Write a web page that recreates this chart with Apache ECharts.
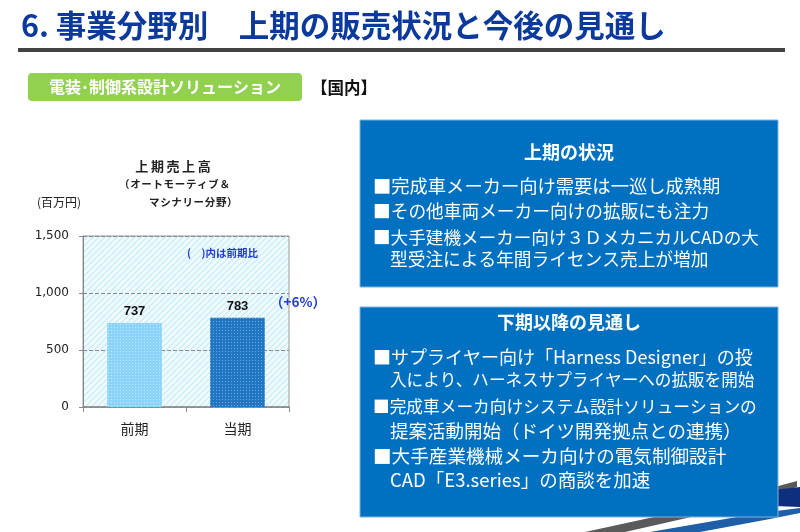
<!DOCTYPE html>
<html><head><meta charset="utf-8">
<script src="https://cdn.jsdelivr.net/npm/echarts@6/dist/echarts.min.js"></script>
<style>html,body{margin:0;padding:0;background:#fff}#c{width:800px;height:532px}</style>
</head><body><div id="c"></div>
<script>
const categories = ['前期', '当期'];
const sales = [737, 783];
const yTicks = [0, 500, 1000, 1500];
const growthNote = '（+6%）';
const pageTitle = '6. 事業分野別　上期の販売状況と今後の見通し';
const sectionLabel = '電装･制御系設計ソリューション';
const regionLabel = '【国内】';
const chartTitle = ['上\u2009期\u2009売\u2009上\u2009高', '（\u200aオ\u200aー\u200aト\u200aモ\u200aー\u200aテ\u200aィ\u200aブ\u200a＆', 'マ\u200aシ\u200aナ\u200aリ\u200aー\u200a分\u200a野\u200a）'];
const unitLabel = '(百万円)';
const ratioNote = '(　)内は前期比';
const box1Title = '上期の状況';
const box1Lines = ['■完成車メーカー向け需要は一巡し成熟期', '■その他車両メーカー向けの拡販にも注力', '■大手建機メーカー向け３ＤメカニカルCADの大', '型受注による年間ライセンス売上が増加'];
const box2Title = '下期以降の見通し';
const box2Lines = ['■サプライヤー向け「Harness Designer」の投', '入により、ハーネスサプライヤーへの拡販を開始', '■完成車メーカ向けシステム設計ソリューションの', '提案活動開始（ドイツ開発拠点との連携）', '■大手産業機械メーカ向けの電気制御設計', 'CAD「E3.series」の商談を加速'];

const JP = '"Noto Sans CJK JP", "Noto Sans", sans-serif';

// hatch pattern for plot background
const pc = document.createElement('canvas');
pc.width = 6; pc.height = 6;
const g = pc.getContext('2d');
g.fillStyle = '#f1fbfe'; g.fillRect(0, 0, 6, 6);
g.strokeStyle = '#c8edf9'; g.lineWidth = 1.3;
g.beginPath(); g.moveTo(-1, 7); g.lineTo(7, -1); g.moveTo(-1, 1); g.lineTo(1, -1); g.moveTo(5, 7); g.lineTo(7, 5); g.stroke();

const chart = echarts.init(document.getElementById('c'), null, {renderer: 'canvas'});

function textEl(x, y, text, size, color, weight, align) {
  return {type: 'text', x: x, y: y, z: 10, style: {text: text, fontSize: size, fill: color, fontWeight: weight || 'normal', fontFamily: JP, align: align || 'left', verticalAlign: 'middle'}};
}

const graphics = [];
// page title + underline
graphics.push(textEl(21, 25, pageTitle, 30.5, '#0c3a9c', 'bold'));
graphics.push({type: 'rect', shape: {x: 18, y: 48, width: 767, height: 4}, style: {fill: '#424242'}});
// section label
graphics.push({type: 'rect', shape: {x: 28, y: 73, width: 274, height: 28, r: 4}, style: {fill: '#92d050'}});
graphics.push(textEl(165, 87, sectionLabel, 16, '#ffffff', 'bold', 'center'));
graphics.push(textEl(311, 88, regionLabel, 16.5, '#111111', 'bold'));
// chart titles
graphics.push(textEl(173, 166, chartTitle[0], 13, '#222', 'bold', 'center'));
graphics.push(textEl(119, 184, chartTitle[1], 10.5, '#222', 'bold'));
graphics.push(textEl(149, 202, chartTitle[2], 10.5, '#222', 'bold'));
graphics.push(textEl(37, 202, unitLabel, 12, '#222', 'normal'));
graphics.push(textEl(187, 253, ratioNote, 10.5, '#1f3bd0', 'bold'));
graphics.push(textEl(270, 302, growthNote, 13.5, '#1f3bd0', 'bold'));
// decorative swooshes (behind box)
graphics.push({type: 'polygon', z: 1, shape: {points: [[585, 532], [625, 532], [700, 515], [797, 487], [797, 481], [700, 507]]}, style: {fill: '#5a5a5a'}});
graphics.push({type: 'polygon', z: 1, shape: {points: [[650, 532], [700, 532], [770, 519], [800, 513], [800, 508], [760, 513]]}, style: {fill: '#1e5fa8'}});
graphics.push({type: 'polygon', z: 1, shape: {points: [[772, 490], [800, 487], [800, 507], [775, 506]]}, style: {fill: '#0e2f7e'}});
// boxes
graphics.push({type: 'rect', z: 5, shape: {x: 360, y: 120, width: 418, height: 167}, style: {fill: '#0070c0', stroke: '#7fb3e0', lineWidth: 1}});
graphics.push({type: 'rect', z: 5, shape: {x: 360, y: 307, width: 418, height: 210}, style: {fill: '#0070c0', stroke: '#7fb3e0', lineWidth: 1}});
graphics.push(textEl(569, 152, box1Title, 18, '#ffffff', 'bold', 'center'));
const b1y = [186, 211, 237, 259];
const b1x = [373, 373, 373, 390];
const b1s = [18.3, 17.7, 17.6, 17.7];
box1Lines.forEach((t, i) => graphics.push(textEl(b1x[i], b1y[i], t, b1s[i], '#ffffff', 'normal')));
graphics.push(textEl(569, 322, box2Title, 18, '#ffffff', 'bold', 'center'));
const b2y = [357, 380, 407, 431, 456, 480];
const b2x = [373, 390, 373, 390, 373, 390];
const b2s = [18, 16.6, 16.7, 18.5, 18.6, 18.5];
box2Lines.forEach((t, i) => graphics.push(textEl(b2x[i], b2y[i], t, b2s[i], '#ffffff', 'normal')));

chart.setOption({
  animation: false,
  backgroundColor: '#ffffff',
  grid: {left: 83, right: 511, top: 236, bottom: 125, show: true, borderColor: '#9a9a9a', borderWidth: 1,
         backgroundColor: {image: pc, repeat: 'repeat'}},
  xAxis: {type: 'category', data: categories,
    axisLine: {lineStyle: {color: '#888', width: 1.5}},
    axisTick: {show: true, length: 5, lineStyle: {color: '#888'}},
    axisLabel: {fontSize: 14, color: '#222', margin: 15, fontFamily: JP}},
  yAxis: {type: 'value', min: yTicks[0], max: yTicks[yTicks.length - 1], interval: 500,
    axisLine: {show: true, lineStyle: {color: '#888'}},
    axisTick: {show: true, length: 4, lineStyle: {color: '#888'}},
    splitLine: {lineStyle: {color: '#8a8a8a', type: 'dashed'}},
    axisLabel: {fontSize: 12, color: '#222', margin: 14, fontFamily: '"DejaVu Sans", sans-serif',
      formatter: v => v.toLocaleString('en-US')}},
  series: [{type: 'bar', barWidth: '53%',
    data: sales.map((v, i) => ({value: v, itemStyle: {color: i === 0 ? '#8cd3fa' : '#2176c4',
      decal: {symbol: 'rect', symbolSize: 1, dashArrayX: [1, 2], dashArrayY: [1, 2], color: i === 0 ? 'rgba(255,255,255,0.45)' : 'rgba(200,230,255,0.45)'}}})),
    label: {show: true, position: 'top', distance: 5, fontSize: 13, fontWeight: 'bold', color: '#111', fontFamily: '"Liberation Sans", Arial, sans-serif'}}],
  graphic: graphics
});
</script></body></html>
